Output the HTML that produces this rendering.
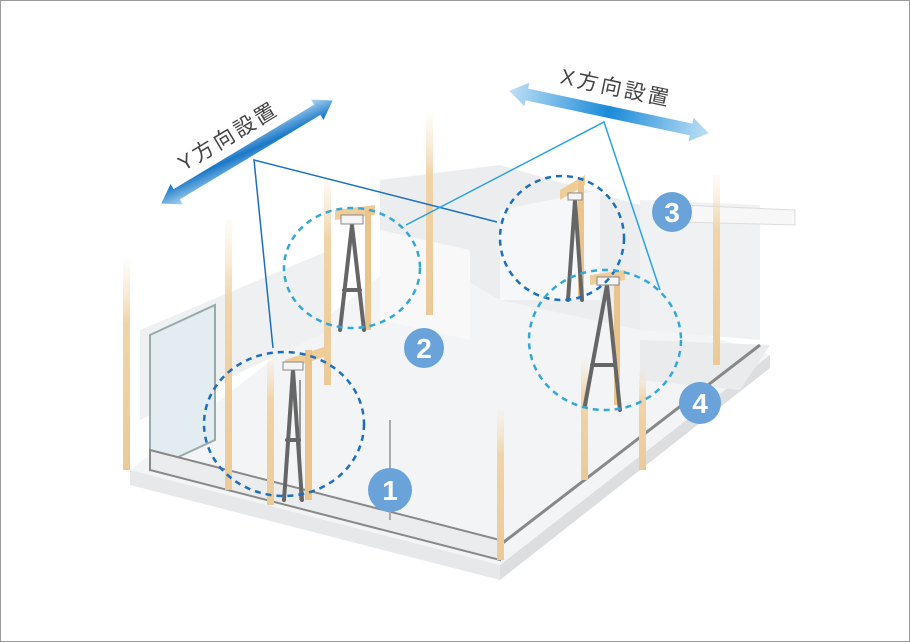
<!DOCTYPE html>
<html><head><meta charset="utf-8"><style>
html,body{margin:0;padding:0;background:#fff}
svg{display:block}
text{font-family:"Liberation Sans","Noto Sans CJK JP",sans-serif}
</style></head><body>
<svg width="910" height="642" viewBox="0 0 910 642" xmlns="http://www.w3.org/2000/svg">
<defs>
<linearGradient id="ya" x1="0" y1="1" x2="1" y2="0"><stop offset="0" stop-color="#bfe0f5"/><stop offset=".5" stop-color="#1a78c8"/><stop offset="1" stop-color="#bfe0f5"/></linearGradient>
<linearGradient id="xa" x1="0" y1="0" x2="1" y2="0"><stop offset="0" stop-color="#bfe0f5"/><stop offset=".5" stop-color="#1a8ad8"/><stop offset="1" stop-color="#bfe0f5"/></linearGradient>
<linearGradient id="post" x1="0" y1="0" x2="0" y2="1"><stop offset="0" stop-color="#f6e2c4" stop-opacity=".1"/><stop offset=".3" stop-color="#f0d4a8"/><stop offset="1" stop-color="#ebca98"/></linearGradient>
</defs>
<rect x="0.5" y="0.5" width="909" height="641" fill="#fff" stroke="#999"/>
<polygon points="130,470 500,565 770,355 420,245" fill="#f3f4f5"/>
<polygon points="130,470 500,565 500,580 130,485" fill="#e6e8ea"/>
<polygon points="500,565 770,355 770,368 500,580" fill="#dcdee0"/>
<polygon points="140,330 330,250 330,330 140,420" fill="#eef0f1"/>
<polygon points="380,180 500,165 640,205 640,330 500,300 380,230" fill="#ecedee"/>
<polygon points="500,210 600,190 600,300 500,300" fill="#f6f7f8"/>
<polygon points="380,230 470,250 470,340 380,320" fill="#f8f8f9"/>
<polygon points="640,200 760,205 760,340 640,330" fill="#f0f1f2"/>
<polygon points="680,205 795,210 795,225 680,222" fill="#f7f7f7" stroke="#ddd"/>
<polygon points="640,340 770,345 740,390 640,380" fill="#e9ebec"/>
<polygon points="150,335 215,305 215,440 150,470" fill="#e2ecf1" stroke="#9aa" stroke-width="2"/>
<polygon points="150,450 500,540 500,560 150,470" fill="#eaecee" stroke="#888" stroke-width="2"/>
<line x1="500" y1="545" x2="760" y2="345" stroke="#888" stroke-width="3"/>
<line x1="300" y1="500" x2="300" y2="380" stroke="#999" stroke-width="2"/>
<line x1="390" y1="520" x2="390" y2="420" stroke="#aaa" stroke-width="2"/>
<g fill="url(#post)">
<rect x="123" y="260" width="7" height="210"/>
<rect x="225" y="220" width="7" height="270"/>
<rect x="324" y="175" width="7" height="210"/>
<rect x="426" y="115" width="7" height="200"/>
<rect x="497" y="410" width="7" height="150"/>
<rect x="581" y="360" width="7" height="120"/>
<rect x="713" y="175" width="7" height="190"/>
<rect x="639" y="370" width="7" height="100"/>
<rect x="267" y="355" width="7" height="150"/>
</g>
<g fill="#efcd99">
<polygon points="285,360 330,345 330,355 285,370"/>
<polygon points="335,210 375,205 375,215 335,220"/>
<polygon points="560,190 585,175 585,185 560,200"/>
<polygon points="590,275 625,270 625,280 590,285"/>
</g>
<rect x="305" y="350" width="7" height="150" fill="#eac48b"/>
<rect x="365" y="210" width="6" height="120" fill="#eac48b"/>
<rect x="578" y="180" width="6" height="120" fill="#eac48b"/>
<rect x="614" y="275" width="6" height="130" fill="#eac48b"/>
<g stroke="#666" stroke-width="4" fill="none" stroke-linecap="round">
<path d="M293,370 L284,500 M293,370 L302,500 M287,440 L299,440"/>
<path d="M352,225 L340,330 M352,225 L364,330 M344,290 L360,290"/>
<path d="M575,200 L568,300 M575,200 L582,300"/>
<path d="M607,285 L585,405 M607,285 L620,410 M592,365 L615,365"/>
</g>
<g fill="#f4f4f4" stroke="#888">
<rect x="283" y="362" width="20" height="8"/>
<rect x="341" y="215" width="22" height="9"/>
<rect x="597" y="277" width="22" height="8"/>
<rect x="568" y="193" width="14" height="7"/>
</g>
<g stroke="#1a6fc0" stroke-width="1.5" fill="none">
<polyline points="273,348 254,160 497,222"/>
</g>
<g stroke="#2aa0e0" stroke-width="1.5" fill="none">
<polyline points="406,225 604,122 660,290"/>
</g>
<g fill="none" stroke-width="2.5" stroke-dasharray="6,5">
<ellipse cx="284" cy="424" rx="80" ry="72" stroke="#1a6fc0"/>
<ellipse cx="352" cy="268" rx="68" ry="60" stroke="#33a8d8"/>
<ellipse cx="562" cy="238" rx="62" ry="62" stroke="#1a6fc0"/>
<ellipse cx="605" cy="340" rx="76" ry="70" stroke="#33a8d8"/>
</g>
<g transform="translate(247,152) rotate(-31)">
<polygon points="-100,0 -82,-12 -82,-6 82,-6 82,-12 100,0 82,12 82,6 -82,6 -82,12" fill="url(#ya)"/>
<text x="-8" y="-16" font-size="21" fill="#444" text-anchor="middle" letter-spacing="3">Y方向設置</text>
</g>
<g transform="translate(609,112) rotate(12)">
<polygon points="-102,0 -84,-12 -84,-6 84,-6 84,-12 102,0 84,12 84,6 -84,6 -84,12" fill="url(#xa)"/>
<text x="2" y="-18" font-size="21" fill="#444" text-anchor="middle" letter-spacing="3">X方向設置</text>
</g>
<g fill="#6aa3da">
<circle cx="390" cy="490" r="22"/><circle cx="424" cy="348" r="20"/>
<circle cx="672" cy="212" r="20"/><circle cx="700" cy="403" r="21"/>
</g>
<g fill="#fff" font-size="28" font-weight="bold" text-anchor="middle">
<text x="390" y="500">1</text><text x="424" y="358">2</text>
<text x="672" y="222">3</text><text x="700" y="413">4</text>
</g>
</svg>
</body></html>
